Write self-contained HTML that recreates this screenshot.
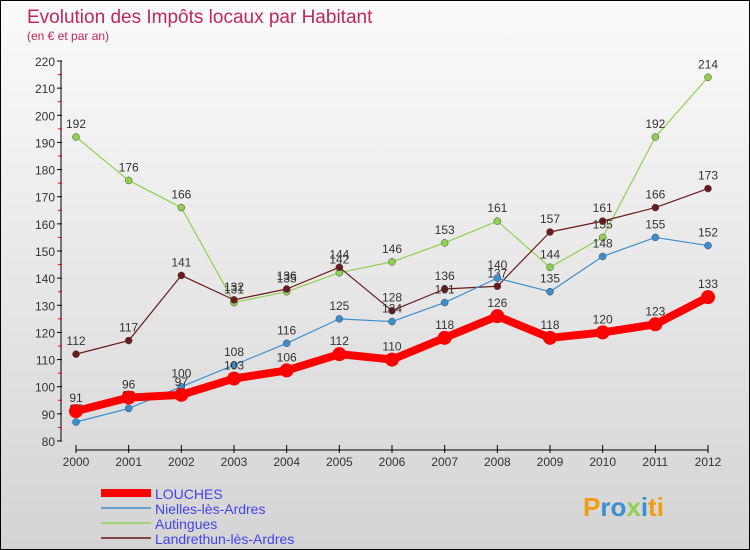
<!DOCTYPE html>
<html><head><meta charset="utf-8"><style>
body{margin:0}
#c{position:relative;width:750px;height:550px;box-sizing:border-box;border:1px solid #000;background:linear-gradient(#fbfbfb,#d4d4d4);font-family:"Liberation Sans",sans-serif;overflow:hidden}
svg text{font-family:"Liberation Sans",sans-serif}
</style></head><body>
<div id="c">
<svg id="s" width="750" height="550"></svg>
</div>
<script>
const years=[2000,2001,2002,2003,2004,2005,2006,2007,2008,2009,2010,2011,2012];
const louches=[91,96,97,103,106,112,110,118,126,118,120,123,133];
const nielles=[87,92,100,108,116,125,124,131,140,135,148,155,152];
const autingues=[192,176,166,131,135,142,146,153,161,144,155,192,214];
const landrethun=[112,117,141,132,136,144,128,136,137,157,161,166,173];
const yTicks=[80,90,100,110,120,130,140,150,160,170,180,190,200,210,220];
const NS="http://www.w3.org/2000/svg";
const s=document.getElementById('s');
const X=i=>75+i*(707-75)/12;
const Y=v=>440-(v-80)*(380/140);
function el(t,a,p){const e=document.createElementNS(NS,t);for(const k in a)e.setAttribute(k,a[k]);(p||s).appendChild(e);return e;}
let t=el('text',{x:26,y:22,fill:'#c0275a','font-size':19});t.textContent='Evolution des Impôts locaux par Habitant';

t=el('text',{x:26,y:39,fill:'#c0275a','font-size':12});t.textContent='(en € et par an)';

let a=el('line',{x1:60,y1:60,x2:60,y2:440,stroke:'#000'});

yTicks.forEach(v=>{el('line',{x1:56,y1:Y(v),x2:61,y2:Y(v),stroke:'#000'});
 if(v<220){el('line',{x1:57,y1:Y(v+5),x2:61,y2:Y(v+5),stroke:'#e00'});}
 const l=el('text',{x:54,y:Y(v)+5,'text-anchor':'end','font-size':12,fill:'#333'});l.textContent=v;
 });
a=el('line',{x1:75,y1:449,x2:707,y2:449,stroke:'#000'});

years.forEach((y,i)=>{el('line',{x1:X(i),y1:444,x2:X(i),y2:452,stroke:'#000'});
 const l=el('text',{x:X(i),y:465,'text-anchor':'middle','font-size':12,fill:'#333'});l.textContent=y;
 });
const series=[
 {d:autingues,c:'#8fd14f',w:1.2,r:3.5,n:'autingues'},
 {d:landrethun,c:'#6b1a1a',w:1.2,r:3.5,n:'landrethun'},
 {d:nielles,c:'#3a8fd0',w:1.2,r:3.5,n:'nielles'},
 {d:louches,c:'#f00',w:8,r:7,n:'louches'}];
series.forEach(S=>{
 const p=el('polyline',{points:S.d.map((v,i)=>X(i)+','+Y(v)).join(' '),fill:'none',stroke:S.c,'stroke-width':S.w,'stroke-linejoin':'round'});
 
 S.d.forEach((v,i)=>{const c=el('circle',{cx:X(i),cy:Y(v),r:S.r,fill:S.c,stroke:S.w>2?'none':'#444','stroke-width':0.5});
  
  const l=el('text',{x:X(i),y:Y(v)-9,'text-anchor':'middle','font-size':12,fill:'#333'});l.textContent=v;
  });
});
const leg=[['LOUCHES','#f00',8],['Nielles-lès-Ardres','#3a8fd0',1.5],['Autingues','#8fd14f',1.5],['Landrethun-lès-Ardres','#6b1a1a',1.5]];
leg.forEach((L,i)=>{const y=492+i*15;
 const g=el('g',{});
 el('line',{x1:100,y1:y,x2:150,y2:y,stroke:L[1],'stroke-width':L[2]},g);
 const tt=el('text',{x:154,y:y+6,'font-size':14,fill:'#4444ee'},g);tt.textContent=L[0];});
const lg=el('text',{x:582,y:515,'font-size':26,'font-weight':'bold',fill:'#3a8fd0'});
lg.innerHTML='<tspan fill="#f39c12">P</tspan><tspan fill="#3a8fd0">ro</tspan><tspan fill="#8fd14f">x</tspan><tspan fill="#3a8fd0">i</tspan><tspan fill="#f39c12">ti</tspan>';

</script>
</body></html>
